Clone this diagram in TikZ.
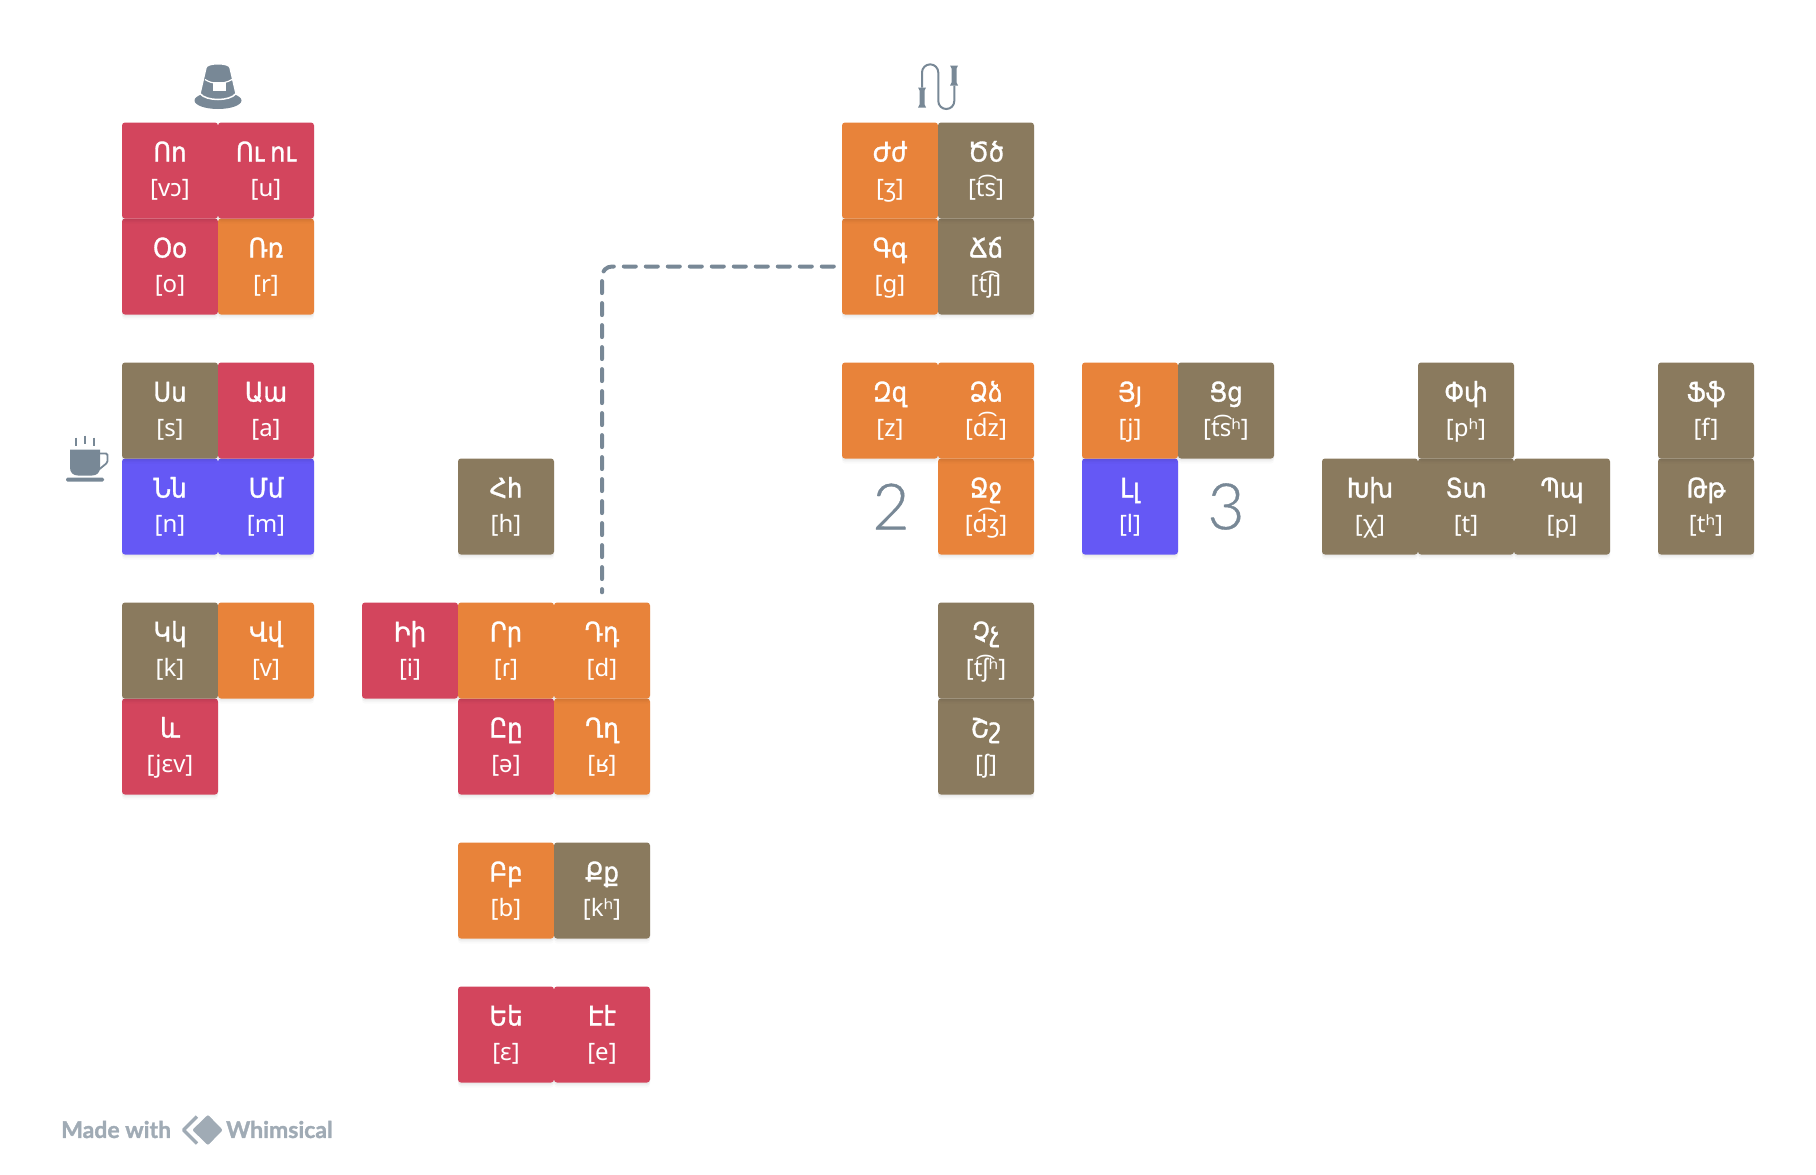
\documentclass[tikz,border=0pt]{standalone}
\usepackage{fontspec}
\setmainfont{Noto Sans}
\newfontfamily\armfont[FakeBold=1.2,FakeStretch=0.9,WordSpace=0.75]{DejaVu Sans}
\newfontfamily\markfont[FakeBold=0.6]{Lato Light}
\newfontfamily\brandfont[BoldFeatures={FakeBold=1.4}]{Lato}
\usetikzlibrary{shadows}
\definecolor{rose}{HTML}{D3455D}
\definecolor{amber}{HTML}{E8833A}
\definecolor{umber}{HTML}{8A7A5E}
\definecolor{violet}{HTML}{6558F5}
\definecolor{slate}{HTML}{788896}
\definecolor{ash}{HTML}{A0ABB5}
\newcommand{\duo}[2]{{\armfont\fontsize{27}{35}\selectfont #1}\\{[#2]}}
\tikzset{
  tile/.style={rectangle, rounded corners=3pt, minimum size=96pt, inner sep=0pt, text=white,
    align=center, text height=74pt, text depth=22pt, font=\fontsize{24}{35}\selectfont,
    general shadow={shadow yshift=-5pt, opacity=.02, fill=black},
    general shadow={shadow yshift=-3pt, opacity=.03, fill=black},
    general shadow={shadow yshift=-1.5pt, opacity=.03, fill=black}},
  vowel/.style={tile, fill=rose},
  voiced/.style={tile, fill=amber},
  voiceless/.style={tile, fill=umber},
  nasal/.style={tile, fill=violet},
  numeral/.style={text=slate, inner sep=0pt, font=\markfont\fontsize{64}{64}\selectfont},
  dashlink/.style={slate, line width=4pt, line cap=round, dash pattern=on 12pt off 10pt, rounded corners=10pt},
  brandtext/.style={text=ash, inner sep=0pt, font=\brandfont\bfseries\fontsize{23}{23}\selectfont}
}
\begin{document}
\begin{tikzpicture}[x=1pt,y=-1pt]
  \useasboundingbox (0,-0.5) rectangle (1816,1174.5);
  \node[vowel] (oh) at (170,266) {\duo{Օօ}{o}};
  \node[voiced] (rra) at (266,266) {\duo{Ռռ}{r}};
  \node[vowel] (vo) at (170,170) {\duo{Ոո}{vɔ}};
  \node[vowel] (yun) at (266,170) {\duo{Ու ու}{u}};
  \node[nasal] (now) at (170,506) {\duo{Նն}{n}};
  \node[nasal] (men) at (266,506) {\duo{Մմ}{m}};
  \node[voiceless] (se) at (170,410) {\duo{Սս}{s}};
  \node[vowel] (ayb) at (266,410) {\duo{Աա}{a}};
  \node[vowel] (yev) at (170,746) {\duo{և}{jɛv}};
  \node[voiceless] (ken) at (170,650) {\duo{Կկ}{k}};
  \node[voiced] (vev) at (266,650) {\duo{Վվ}{v}};
  \node[voiceless] (ho) at (506,506) {\duo{Հհ}{h}};
  \node[vowel] (et) at (506,746) {\duo{Ըը}{ə}};
  \node[voiced] (ghat) at (602,746) {\duo{Ղղ}{ʁ}};
  \node[vowel] (ini) at (410,650) {\duo{Իի}{i}};
  \node[voiced] (re) at (506,650) {\duo{Րր}{ɾ}};
  \node[voiced] (da) at (602,650) {\duo{Դդ}{d}};
  \node[voiced] (ben) at (506,890) {\duo{Բբ}{b}};
  \node[voiceless] (ke) at (602,890) {\duo{Քք}{kʰ}};
  \node[vowel] (yech) at (506,1034) {\duo{Եե}{ɛ}};
  \node[vowel] (eh) at (602,1034) {\duo{Էէ}{e}};
  \node[voiced] (gim) at (890,266) {\duo{Գգ}{g}};
  \node[voiceless] (che) at (986,266) {\duo{Ճճ}{t͡ʃ}};
  \node[voiced] (zhe) at (890,170) {\duo{Ժժ}{ʒ}};
  \node[voiceless] (tsa) at (986,170) {\duo{Ծծ}{t͡s}};
  \node[voiced] (je) at (986,506) {\duo{Ջջ}{d͡ʒ}};
  \node[voiced] (za) at (890,410) {\duo{Զզ}{z}};
  \node[voiced] (dza) at (986,410) {\duo{Ձձ}{d͡z}};
  \node[voiceless] (sha) at (986,746) {\duo{Շշ}{ʃ}};
  \node[voiceless] (cha) at (986,650) {\duo{Չչ}{t͡ʃʰ}};
  \node[nasal] (lyun) at (1130,506) {\duo{Լլ}{l}};
  \node[voiced] (hi) at (1130,410) {\duo{Յյ}{j}};
  \node[voiceless] (tso) at (1226,410) {\duo{Ցց}{t͡sʰ}};
  \node[voiceless] (khe) at (1370,506) {\duo{Խխ}{χ}};
  \node[voiceless] (tyun) at (1466,506) {\duo{Տտ}{t}};
  \node[voiceless] (pe) at (1562,506) {\duo{Պպ}{p}};
  \node[voiceless] (pyur) at (1466,410) {\duo{Փփ}{pʰ}};
  \node[voiceless] (to) at (1706,506) {\duo{Թթ}{tʰ}};
  \node[voiceless] (fe) at (1706,410) {\duo{Ֆֆ}{f}};
  \node[numeral] (two) at (891,506) {2};
  \node[numeral] (three) at (1226,506) {3};
  \draw[dashlink, shorten <=8pt, shorten >=10pt] (gim.west) -| (da.north);
  % hat
  \fill[slate] (218,100) ellipse (23.5 and 8.5);
  \fill[slate, draw=white, line width=1.5pt] (206,67) .. controls (207,62) and (229,62) .. (230,67)
    -- (236,93) .. controls (230,101) and (206,101) .. (200,93) -- cycle;
  \draw[white, line width=1.2pt] (205,79) .. controls (212,84) and (224,84) .. (232,79);
  \fill[white] (213,81) rectangle (226,90);
  % cup
  \fill[slate] (70,449) -- (100,449) -- (100,467) .. controls (100,472) and (97,475) .. (92,475)
    -- (78,475) .. controls (73,475) and (70,472) .. (70,467) -- cycle;
  \draw[slate, line width=1.8pt, rounded corners=1.5pt] (100,453) -- (107.5,453) -- (107.5,462) -- (99,469);
  \fill[slate, rounded corners=1.5pt] (66,477) rectangle (104,481);
  \foreach \sx/\sy in {76/437,85/435,94/437}
    \draw[slate, line width=1.8pt] (\sx,\sy) -- (\sx,\sy+8);
  % rope
  \draw[slate, line width=2pt] (922,87) -- (922,72) arc[start angle=180, end angle=360, radius=8.15]
    -- (938.3,100.5) arc[start angle=180, end angle=0, radius=8] -- (954.3,85);
  \fill[slate] (918,87) -- (926,87) -- (924.5,90) -- (924.5,104) -- (926,107) -- (918,107) -- (919.5,104) -- (919.5,90) -- cycle;
  \fill[slate] (950,65) -- (958,65) -- (956.5,68) -- (956.5,82) -- (958,85) -- (950,85) -- (951.5,82) -- (951.5,68) -- cycle;
  % watermark
  \node[brandtext, anchor=west] (made) at (61,1129) {Made with};
  \node[brandtext, anchor=west] (whim) at (226,1129) {Whimsical};
  \draw[ash, line width=3.5pt, line join=round] (197,1116) -- (183.5,1129.5) -- (197,1143);
  \fill[ash, draw=white, line width=1.5pt, rounded corners=2.5pt] (208,1113) -- (224,1129.5) -- (208,1146) -- (191,1129.5) -- cycle;
\end{tikzpicture}
\end{document}
